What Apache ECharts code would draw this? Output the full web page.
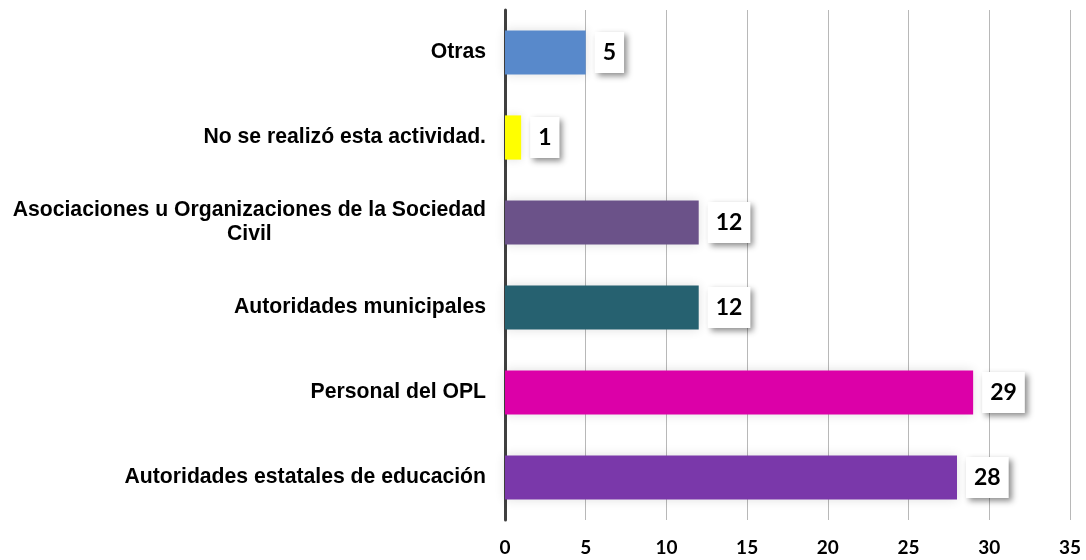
<!DOCTYPE html>
<html>
<head>
<meta charset="utf-8">
<script src="https://cdn.jsdelivr.net/npm/echarts@6/dist/echarts.min.js"></script>
<style>
html, body { margin: 0; padding: 0; background: #fff; }
#chart { width: 1086px; height: 560px; }
</style>
</head>
<body>
<div id="chart"></div>
<script>
// bottom to top, as the y axis draws them
const categories = [
  'Autoridades estatales de educación',
  'Personal del OPL',
  'Autoridades municipales',
  'Asociaciones u Organizaciones de la Sociedad\nCivil',
  'No se realizó esta actividad.',
  'Otras'
]
const values = [28, 29, 12, 12, 1, 5]
const barColors = ['#7a38aa', '#dc00a8', '#266170', '#6b5289', '#ffff00', '#5889cb']
const xTicks = [0, 5, 10, 15, 20, 25, 30, 35]

const chart = echarts.init(document.getElementById('chart'))
const option = {
  animation: false,
  grid: {
    left: 505,
    right: 16,
    top: 10,
    bottom: 40
  },
  xAxis: {
    type: 'value',
    min: xTicks[0],
    max: xTicks[xTicks.length - 1],
    interval: 5,
    axisLine: { show: false },
    axisTick: { show: false },
    splitLine: { lineStyle: { color: '#b8b8b8', width: 1 } },
    axisLabel: {
      margin: 18,
      fontFamily: 'Lato',
      fontWeight: 'bold',
      fontSize: 19,
      color: '#000'
    }
  },
  yAxis: {
    type: 'category',
    data: categories,
    axisLine: { lineStyle: { color: '#404040', width: 3 } },
    axisTick: { length: 6, lineStyle: { color: '#404040', width: 3 } },
    axisLabel: {
      margin: 19,
      fontFamily: 'Liberation Sans',
      fontWeight: 'bold',
      fontSize: 21.2,
      color: '#000',
      lineHeight: 24,
      formatter: function(value) {
        if (value.indexOf('\n') >= 0) {
          return value.split('\n').map(s => '{c|' + s + '}').join('\n')
        }
        return value
      },
      rich: {
        c: {
          align: 'center',
          fontFamily: 'Liberation Sans',
          fontWeight: 'bold',
          fontSize: 21.2,
          lineHeight: 24,
          color: '#000'
        }
      }
    }
  },
  series: [
    {
      type: 'bar',
      data: values.map((v, i) => ({
        value: v,
        itemStyle: { color: barColors[i] }
      })),
      barCategoryGap: '48%',
      itemStyle: {
        shadowBlur: 10,
        shadowColor: 'rgba(0,0,0,0.12)'
      },
      label: {
        show: true,
        position: 'right',
        distance: 9,
        fontFamily: 'Lato',
        fontWeight: 'bold',
        fontSize: 23,
        color: '#000',
        backgroundColor: '#fff',
        padding: [9, 8, 9, 8],
        shadowBlur: 6,
        shadowOffsetX: 3,
        shadowOffsetY: 3,
        shadowColor: 'rgba(0,0,0,0.45)'
      }
    }
  ]
}
chart && chart.setOption(option)
</script>
</body>
</html>
